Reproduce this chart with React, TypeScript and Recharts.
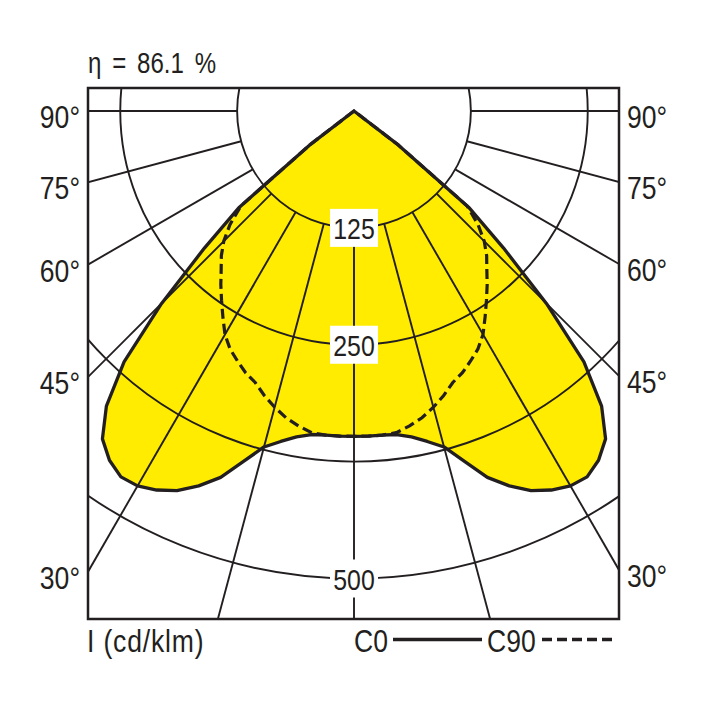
import React from 'react';
import { RadarChart, Radar, PolarGrid, PolarAngleAxis, PolarRadiusAxis } from 'recharts';

// Luminous intensity distribution (cd/klm), symmetric: values for gamma 0..90°
const GAMMA = [0, 2.5, 5, 7.5, 10, 12.5, 15, 17.5, 20, 22.5, 25, 27.5, 30, 32.5, 35, 37.5, 40, 42.5, 45, 47.5, 50, 52.5, 55, 57.5, 60, 62.5, 65, 67.5, 70, 72.5, 75, 77.5, 80, 82.5, 85, 87.5, 90];
const C0_VALUES = [348, 348, 348, 349, 354, 362, 372, 393, 417, 434, 448, 457, 463, 464, 456, 442, 412, 364, 291, 217, 160, 60, 0, 0, 0, 0, 0, 0, 0, 0, 0, 0, 0, 0, 0, 0, 0];
const C90_VALUES = [348, 348, 348, 347, 342, 336, 328, 319, 309, 303, 295, 287, 276, 261, 247, 234, 221, 210, 197, 180, 158, 59, 0, 0, 0, 0, 0, 0, 0, 0, 0, 0, 0, 0, 0, 0, 0];

const ANGLE_TICKS = [-90, -75, -60, -45, -30, -15, 0, 15, 30, 45, 60, 75, 90];
const RADIUS_TICKS = [125, 250, 375, 500];
const RADIUS_LABELS = [125, 250, 500];
const SIDE_LABELS = [90, 75, 60, 45, 30];
const RADIUS_MAX = 625;
const TITLE = 'η = 86.1 %';
const UNIT_LABEL = 'I (cd/klm)';
const LEGEND_C0 = 'C0';
const LEGEND_C90 = 'C90';

// build table (C0/C180 and C90/C270 mirrored)
const data: { gamma: number; c0: number; c90: number }[] = [];
for (let i = GAMMA.length - 1; i >= 1; i--) {
  data.push({ gamma: -GAMMA[i], c0: C0_VALUES[i], c90: C90_VALUES[i] });
}
for (let i = 0; i < GAMMA.length; i++) {
  data.push({ gamma: GAMMA[i], c0: C0_VALUES[i], c90: C90_VALUES[i] });
}

// layout
const BOX_L = 88;
const BOX_T = 88;
const BOX_SIZE = 531;
const CX = 354;
const CY = 111;
const PX_PER_UNIT = 0.935;
const OUTER = RADIUS_MAX * PX_PER_UNIT;
const INNER_LINE_START = RADIUS_TICKS[0] * PX_PER_UNIT;

const INK = '#231F20';
const YELLOW = '#FFEC00';
const FONT = "'Liberation Sans', Arial, Helvetica, sans-serif";
const SX = 0.83;

type TxtProps = {
  x: number;
  y: number;
  size: number;
  anchor?: 'start' | 'middle' | 'end';
  children: React.ReactNode;
  wordSpacing?: number;
  letterSpacing?: number;
};

const Txt = ({ x, y, size, anchor = 'start', children, wordSpacing, letterSpacing }: TxtProps) => (
  <text
    transform={`translate(${x},${y}) scale(${SX},1)`}
    x={0}
    y={0}
    fontSize={size}
    fontFamily={FONT}
    textAnchor={anchor}
    fill={INK}
    style={{ wordSpacing: wordSpacing ?? 0, letterSpacing: letterSpacing ?? 0, whiteSpace: 'pre' }}
  >
    {children}
  </text>
);

const renderRadiusTick = (props: any) => {
  const { x, y, payload } = props;
  if (!RADIUS_LABELS.includes(payload.value)) return <g />;
  return (
    <g>
      <rect x={x - 24} y={y - 19} width={48} height={38} fill="#ffffff" />
      <Txt x={x} y={y + 11} size={30} anchor="middle">
        {String(payload.value)}
      </Txt>
    </g>
  );
};

export default function App() {
  const leftDist = CX - BOX_L;
  const rightDist = BOX_L + BOX_SIZE - CX;
  return (
    <div style={{ position: 'absolute', left: 0, top: 0, width: 708, height: 708, background: '#fff' }}>
      <div style={{ position: 'absolute', left: BOX_L, top: BOX_T, width: BOX_SIZE, height: BOX_SIZE }}>
        <RadarChart
          width={BOX_SIZE}
          height={BOX_SIZE}
          data={data}
          cx={CX - BOX_L}
          cy={CY - BOX_T}
          innerRadius={0}
          outerRadius={OUTER}
          startAngle={-180}
          endAngle={0}
          margin={{ top: 0, right: 0, bottom: 0, left: 0 }}
        >
          <Radar
            dataKey="c0"
            fill={YELLOW}
            fillOpacity={1}
            stroke="none"
            isAnimationActive={false}
            dot={false}
            activeDot={false}
            zIndex={100}
          />
          <PolarGrid gridType="circle" radialLines={false} stroke={INK} strokeWidth={1.9} zIndex={150} />
          <PolarAngleAxis
            dataKey="gamma"
            type="number"
            domain={[-90, 90]}
            ticks={ANGLE_TICKS}
            tickCount={13}
            allowDataOverflow
            tick={false}
            axisLine={false}
            orientation="inner"
            tickSize={OUTER - INNER_LINE_START}
            stroke={INK}
            tickLine={{ stroke: INK, strokeWidth: 1.9 }}
            zIndex={160}
          />
          <Radar
            dataKey="c0"
            fill="none"
            stroke={INK}
            strokeWidth={3.3}
            strokeLinejoin="round"
            isAnimationActive={false}
            dot={false}
            activeDot={false}
            zIndex={300}
          />
          <Radar
            dataKey="c90"
            fill="none"
            stroke={INK}
            strokeWidth={3.2}
            strokeDasharray="10 5"
            isAnimationActive={false}
            dot={false}
            activeDot={false}
            zIndex={310}
          />
          <PolarRadiusAxis
            type="number"
            domain={[0, RADIUS_MAX]}
            ticks={RADIUS_TICKS}
            angle={-90}
            axisLine={false}
            tickLine={false}
            tick={renderRadiusTick}
            zIndex={500}
          />
        </RadarChart>
      </div>
      <svg
        width={708}
        height={708}
        style={{ position: 'absolute', left: 0, top: 0, pointerEvents: 'none' }}
      >
        <rect x={BOX_L} y={BOX_T} width={BOX_SIZE} height={BOX_SIZE} fill="none" stroke={INK} strokeWidth={2.5} />
        <Txt x={88} y={72.5} size={29} wordSpacing={5}>{TITLE}</Txt>
        {SIDE_LABELS.map((g) => {
          const t = Math.tan((g * Math.PI) / 180);
          const yl = CY + leftDist / t;
          const yr = CY + rightDist / t;
          return (
            <g key={g}>
              <Txt x={80} y={yl + 17} size={32} anchor="end">{`${g}°`}</Txt>
              <Txt x={627} y={yr + 17} size={32}>{`${g}°`}</Txt>
            </g>
          );
        })}
        <Txt x={87} y={652} size={32} letterSpacing={1}>{UNIT_LABEL}</Txt>
        <Txt x={354} y={652} size={32}>{LEGEND_C0}</Txt>
        <line x1={393} y1={639.5} x2={482} y2={639.5} stroke={INK} strokeWidth={3.3} />
        <Txt x={487} y={652} size={32}>{LEGEND_C90}</Txt>
        <line x1={542} y1={639.5} x2={614} y2={639.5} stroke={INK} strokeWidth={3.3} strokeDasharray="10 5" />
      </svg>
    </div>
  );
}
